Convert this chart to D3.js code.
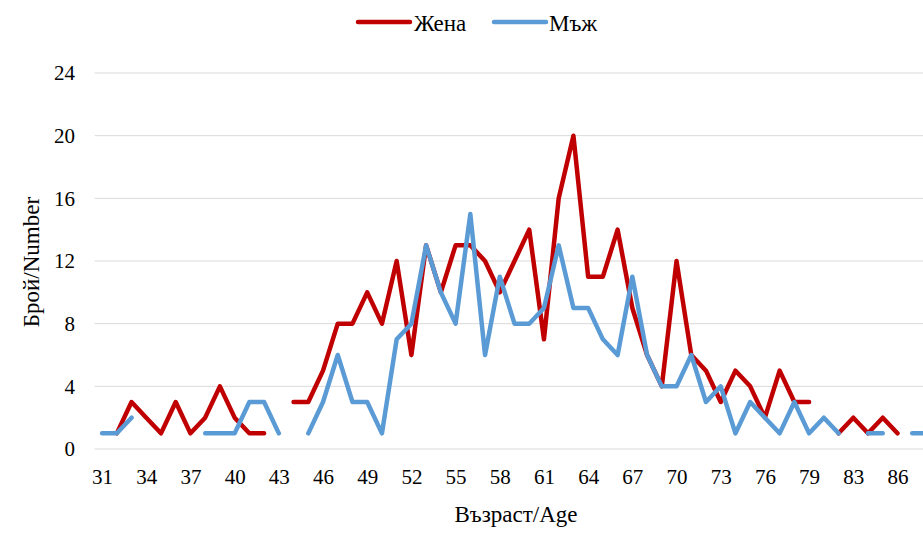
<!DOCTYPE html>
<html>
<head>
<meta charset="utf-8">
<script src="https://cdn.jsdelivr.net/npm/d3@7/dist/d3.min.js"></script>
<style>
  html, body { margin: 0; padding: 0; background: #fff; }
  svg { display: block; }
  text { font-family: "Liberation Serif", "Times New Roman", serif; fill: #000; }
</style>
</head>
<body>
<svg id="chart" width="923" height="534"></svg>
<script>
const ages = [31,32,33,34,35,36,37,38,39,40,41,42,43,44,45,46,47,48,49,50,
              51,52,53,54,55,56,57,58,59,60,61,62,63,64,65,66,67,68,69,70,
              71,72,73,74,75,76,77,78,79,80,81,83,84,85,86,87,88];
const women = [null,1,3,2,1,3,1,2,4,2,1,1,null,3,3,5,8,8,10,8,
               12,6,13,10,13,13,12,10,12,14,7,16,20,11,11,14,9,6,4,12,
               6,5,3,5,4,2,5,3,3,null,1,2,1,2,1,null,null];
const men = [1,1,2,null,null,null,null,1,1,1,3,3,1,null,1,3,6,3,3,1,
             7,8,13,10,8,15,6,11,8,8,9,13,9,9,7,6,11,6,4,4,
             6,3,4,1,3,2,1,3,1,2,1,null,1,1,null,1,1];
const tickAges = [31,34,37,40,43,46,49,52,55,58,61,64,67,70,73,76,79,83,86];
const yTicks = [0,4,8,12,16,20,24];
const seriesNames = ["Жена", "Мъж"];
const colors = ["#C00000", "#5B9BD5"];

const svg = d3.select("#chart");
const left = 94.7, step = 14.73;
const x = d3.scalePoint().domain(ages).range([left + step/2, left + step*(ages.length - 0.5)]);
const y = d3.scaleLinear().domain([0, 24]).range([449, 73]);

// gridlines
svg.append("g").selectAll("line").data(yTicks).join("line")
  .attr("x1", left).attr("x2", left + step*ages.length)
  .attr("y1", d => y(d)).attr("y2", d => y(d))
  .attr("stroke", "#d9d9d9").attr("stroke-width", 1);

// y axis labels
const yAxis = d3.axisLeft(y).tickValues(yTicks).tickSize(0).tickPadding(0);
const gy = svg.append("g").attr("transform", "translate(75,0)").call(yAxis);
gy.select(".domain").remove();
gy.selectAll("text").style("font-family", "Liberation Serif").style("font-size", "21px").attr("fill", "#000");

// x axis labels
const xAxis = d3.axisBottom(x).tickValues(tickAges).tickSize(0).tickPadding(0);
const gx = svg.append("g").attr("transform", "translate(0,469)").call(xAxis);
gx.select(".domain").remove();
gx.selectAll("text").style("font-family", "Liberation Serif").style("font-size", "21px").attr("fill", "#000");

// lines
const mk = vals => d3.line()
  .defined((d, i) => vals[i] != null)
  .x((d, i) => x(ages[i]))
  .y((d, i) => y(vals[i]));
[women, men].forEach((vals, k) => {
  svg.append("path")
    .attr("d", mk(vals)(vals))
    .attr("fill", "none")
    .attr("stroke", colors[k])
    .attr("stroke-width", 4.5)
    .attr("stroke-linejoin", "round")
    .attr("stroke-linecap", "round");
});

// axis titles
svg.append("text").attr("x", 516).attr("y", 522).attr("text-anchor", "middle")
  .style("font-size", "23px").text("Възраст/Age");
svg.append("text").attr("transform", "translate(39,262) rotate(-90)").attr("text-anchor", "middle")
  .style("font-size", "23px").text("Брой/Number");

// legend
const leg = [{x1: 358, x2: 410, tx: 414}, {x1: 494, x2: 546, tx: 549}];
leg.forEach((l, k) => {
  svg.append("line").attr("x1", l.x1).attr("x2", l.x2).attr("y1", 22).attr("y2", 22)
    .attr("stroke", colors[k]).attr("stroke-width", 4.5).attr("stroke-linecap", "round");
  svg.append("text").attr("x", l.tx).attr("y", 31).style("font-size", "23px").text(seriesNames[k]);
});
</script>
</body>
</html>
